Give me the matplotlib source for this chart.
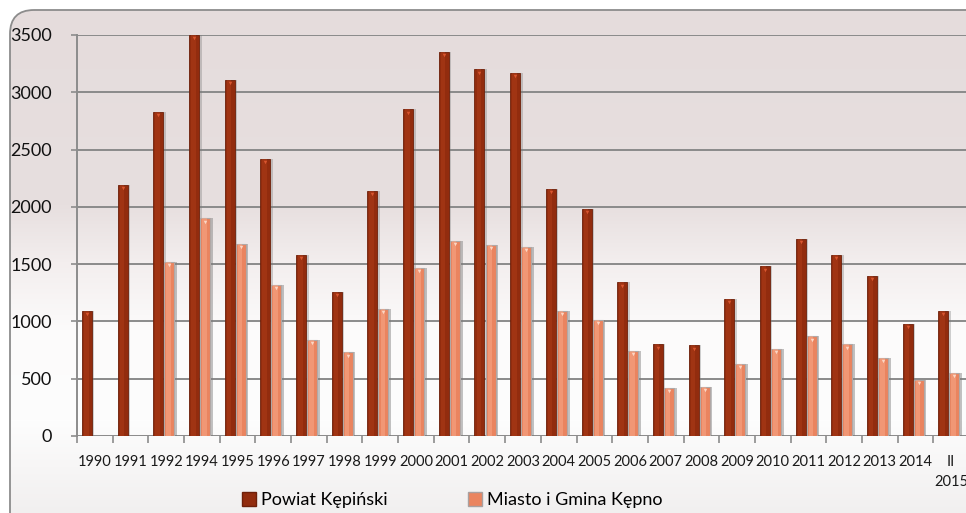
import numpy as np
from matplotlib import pyplot as plt
from matplotlib.patches import FancyBboxPatch
from matplotlib.lines import Line2D

YEARS = ["1990", "1991", "1992", "1994", "1995", "1996", "1997", "1998",
         "1999", "2000", "2001", "2002", "2003", "2004", "2005", "2006",
         "2007", "2008", "2009", "2010", "2011", "2012", "2013", "2014",
         "II\n2015"]
POWIAT = [1090, 2190, 2830, 3500, 3110, 2420, 1580, 1260, 2140, 2850,
          3350, 3200, 3170, 2160, 1980, 1340, 800, 790, 1200, 1480,
          1720, 1580, 1400, 980, 1090]
GMINA = [0, 0, 1520, 1900, 1680, 1320, 840, 730, 1110, 1470,
         1700, 1670, 1650, 1090, 1010, 740, 420, 430, 630, 760,
         870, 800, 680, 490, 550]
LABELS = ["Powiat Kępiński", "Miasto i Gmina Kępno"]

W, H = 966, 513
DARK = "#922c0e"
DARK_HI = "#ab3a18"
LIGHT = "#ea845f"
LIGHT_HI = "#f7a585"

plt.rcParams['font.family'] = ['Lato', 'DejaVu Sans']


def background(fig):
    bg = fig.add_axes([0, 0, 1, 1], zorder=-10)
    bg.set_xlim(0, W)
    bg.set_ylim(H, 0)
    bg.axis("off")
    # vertical gradient: pink on top, fading to white, greyish at bottom
    stops_y = [0, 205, 262, 330, 420, 513]
    stops_c = [(229, 220, 220), (231, 223, 223), (243, 238, 238),
               (252, 251, 251), (253, 253, 253), (241, 239, 239)]
    yy = np.arange(H)
    col = np.stack([np.interp(yy, stops_y, [c[i] for c in stops_c]) for i in range(3)], axis=1) / 255
    img = np.repeat(col[:, None, :], 4, axis=1)
    frame = FancyBboxPatch((10, 10), 990, 560, boxstyle="round,pad=0,rounding_size=24",
                           facecolor="none", edgecolor="#8c8c8c", lw=1.3, zorder=2)
    bg.add_patch(frame)
    im = bg.imshow(img, extent=(0, W, H, 0), aspect="auto", zorder=1)
    im.set_clip_path(frame)


def main():
    fig = plt.figure(figsize=(W / 100, H / 100), dpi=100)
    background(fig)

    ax = fig.add_axes([77 / W, 77 / H, 892 / W, 401 / H])
    ax.set_facecolor("none")
    x = np.arange(len(YEARS))
    bw = 0.28
    xd = x - 0.22
    xl = x + 0.09

    # shadows
    ax.bar(xd + 0.04, POWIAT, bw + 0.06, color="#7a7a7a", alpha=0.35, zorder=2)
    ax.bar(xl + 0.04, GMINA, bw + 0.07, color="#7a7a7a", alpha=0.45, zorder=2)
    # bars
    ax.bar(xd, POWIAT, bw, color=DARK, edgecolor="#6e200a", lw=0.6, zorder=3)
    ax.bar(xd - 0.02, POWIAT, bw * 0.45, color=DARK_HI, alpha=0.6, zorder=3)
    ax.bar(xl, GMINA, bw, color=LIGHT, edgecolor="#b0a8a6", lw=0.8, zorder=3)
    ax.bar(xl - 0.02, GMINA, bw * 0.45, color=LIGHT_HI, alpha=0.6, zorder=3)
    # small highlight at bar tops
    g = np.array(GMINA)
    ax.plot(xd, np.array(POWIAT) - 28, "v", color="#d9552f", ms=2.5, mew=0, zorder=4)
    ax.plot(xl[g > 0], g[g > 0] - 28, "v", color="#fbd6c4", ms=2.5, mew=0, zorder=4)

    ax.set_xlim(-0.5, len(YEARS) - 0.5)
    ax.set_ylim(0, 3500)
    ax.set_yticks(np.arange(0, 3501, 500))
    ax.grid(axis="y", color="#8a8a8a", lw=1.4, zorder=0)
    ax.set_axisbelow(True)

    for s in ["top", "right", "bottom"]:
        ax.spines[s].set_visible(False)
    ax.spines["left"].set_color("#8c8c8c")
    ax.spines["left"].set_linewidth(1.4)
    ax.axhline(0, color="#8c8c8c", lw=1.4, zorder=1)

    ax.set_xticks(x)
    ax.set_xticklabels(YEARS, fontsize=10.5, color="#1a1a1a", linespacing=1.5)
    ax.set_xticks(np.arange(len(YEARS) + 1) - 0.5, minor=True)
    ax.tick_params(axis="x", which="major", length=0, pad=14)
    ax.tick_params(axis="x", which="minor", length=5, color="#8c8c8c", width=1.2)
    ax.tick_params(axis="y", length=4, color="#8c8c8c", width=1.2, pad=14,
                   labelsize=13, labelcolor="#111111")

    handles = [Line2D([], [], marker="s", ls="", color=DARK, mec="#6e200a", ms=10),
               Line2D([], [], marker="s", ls="", color=LIGHT, mec="#a8a0a0", ms=10)]
    fig.legend(handles, LABELS, loc="center", bbox_to_anchor=(0.467, 0.025), ncol=2,
               frameon=False, fontsize=13, handletextpad=0.2, columnspacing=4.3,
               handlelength=1.0)

    fig.savefig("out.png", dpi=100)


if __name__ == "__main__":
    main()
